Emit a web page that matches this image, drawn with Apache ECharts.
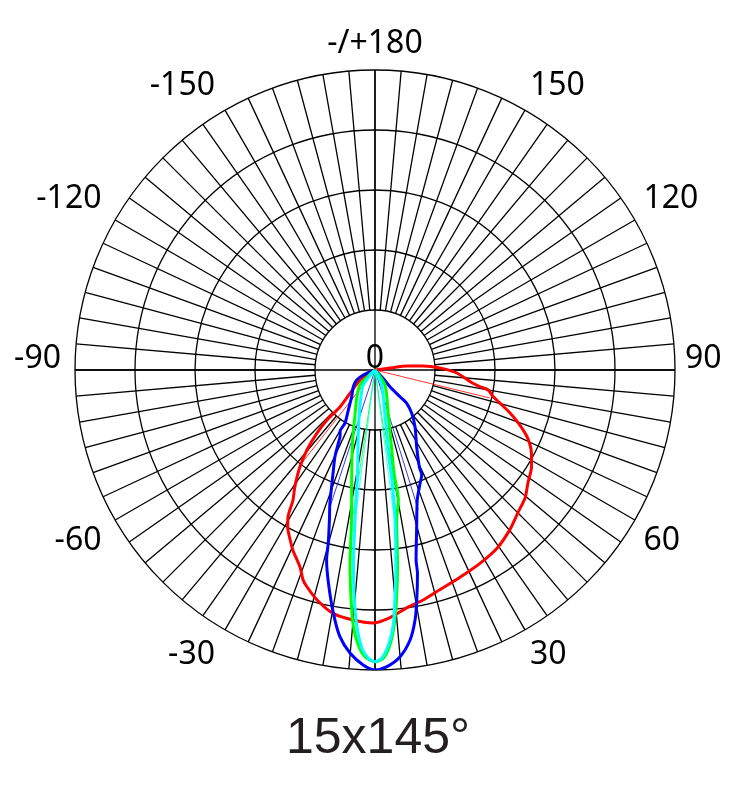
<!DOCTYPE html>
<html><head><meta charset="utf-8">
<script src="https://cdn.jsdelivr.net/npm/echarts@6/dist/echarts.min.js"></script>
<style>html,body{margin:0;padding:0;background:#fff}#c{width:742px;height:810px}</style>
</head><body><div id="c"></div>
<script>
// Angle axis labels (degrees, 0 = straight down)
const angleTicks  = [-180, -150, -120, -90, -60, -30, 0, 30, 60, 90, 120, 150];
const angleLabels = ['-/+180', '-150', '-120', '-90', '-60', '-30', '', '30', '60', '90', '120', '150'];
const chartTitle = '15x145°';
const centerLabel = '0';

// Red curve
const redAngle = [-70, -68, -56, -47, -43.4, -43.8, -42.6, -40.4, -37.7, -34.4, -32.2, -30.6, -29, -26.5, -24.5, -20.8, -18.9, -17.5, -14.2, -9.8, -5, -0.5, 3.5, 7.6, 11.8, 16.5, 22.3, 28.5, 34.4, 40.2, 45, 49.7, 53.6, 58.3, 62.1, 66, 69.2, 72.3, 75.2, 77.3, 80, 81, 83, 87.9, 91.8, 94.8, 97.2, 97.6, 98];
const redR     = [0, 5.4, 18, 34, 51, 69, 86, 105, 123, 142, 154, 171, 180, 190, 198, 211, 222, 227, 237, 247, 251, 253, 248, 240, 235, 229, 224, 220, 216, 209, 202, 197, 190, 184, 177, 167, 155, 142, 129, 121, 115, 106, 96, 82, 65, 48, 32, 15, 0];

// Blue curve
const blueAngle = [-68, -66.9, -61.3, -52.4, -41.1, -33.7, -29.4, -29.8, -27.7, -26.6, -24.8, -22.6, -20.4, -18.7, -16.9, -15.1, -14.3, -12.3, -9.7, -7.5, -5, -2.3, 0, 2.3, 5, 7.4, 9.1, 10.3, 11.8, 12.2, 14.9, 18, 21.7, 24, 24.6, 28.5, 35.2, 40.3, 43.6, 43.1, 41.9, 45, 45];
const blueR     = [0, 12.7, 20.9, 27.4, 35.4, 48.1, 61.2, 70, 75.3, 82, 95.5, 108.3, 124.5, 140.7, 156.8, 179.5, 196, 218.4, 246.9, 269, 284.4, 295.2, 300, 296.9, 287.8, 272.3, 253.2, 233.7, 207.7, 194.4, 162.1, 136.7, 121.9, 114.9, 106.4, 87.3, 69.4, 56.8, 46, 36.6, 22.4, 9.5, 0];

// Green curve
const greenAngle = [-50, -45, -32.9, -24, -19.4, -16.2, -12.5, -8.9, -7.3, -6, -4.9, -3.5, -2, 0, 1.65, 3.1, 4.3, 5.4, 6.6, 8.2, 10.2, 10.4, 12, 16.5, 33.7, 40];
const greenR     = [0, 21.2, 33.7, 49.2, 65.4, 81.5, 107.6, 151.8, 196.6, 229.3, 255.9, 275.5, 286.9, 291.7, 288.4, 275.4, 255.7, 229, 196.3, 151.6, 132, 106.8, 80, 46.9, 18, 0];

// Cyan curve
const cyanAngle = [-45, -38, -23.2, -15.1, -9.5, -7.6, -6.3, -5.2, -4.1, -2.7, -1.3, 0, 1.3, 2.8, 4.1, 5, 6.1, 7.6, 9, 9.6, 12.5, 24, 30];
const cyanR     = [0, 19, 38.1, 63.9, 106.4, 151.3, 196.2, 228.9, 255.7, 278.6, 288.4, 291.7, 288.4, 275.3, 255.7, 228.9, 196.1, 151.3, 106.3, 79.4, 46.1, 16.4, 0];

// Half-intensity beam lines: [angle, radius]
const redHalf   = [[-38.2, 119], [76.3, 118]];
const blueHalf  = [[-18.2, 144], [17.2, 146]];
const greenHalf = [[-8.6, 146], [8.4, 146]];
const cyanHalf  = [[-7.6, 146], [7.4, 146]];

const colors = {red: '#ff0000', blue: '#0000ff', green: '#00ff00', cyan: '#00ffff'};

function pts(a, r) { return a.map((v, i) => [r[i], v]); }

const series = [];
function addCurve(name, a, r, half) {
  half.forEach((h, k) => {
    series.push({
      type: 'line', coordinateSystem: 'polar', polarIndex: 1, name: name + 'half' + k,
      data: [[0, h[0]], [h[1], h[0]]], showSymbol: false, silent: true,
      lineStyle: {color: colors[name], width: 0.8}, z: 3
    });
  });
  series.push({
    type: 'line', coordinateSystem: 'polar', polarIndex: 1, name: name,
    data: pts(a, r), showSymbol: false, smooth: 0.25, silent: true,
    lineStyle: {color: colors[name], width: 3}, z: 4
  });
}
addCurve('red', redAngle, redR, redHalf);
addCurve('blue', blueAngle, blueR, blueHalf);
addCurve('green', greenAngle, greenR, greenHalf);
addCurve('cyan', cyanAngle, cyanR, cyanHalf);

const gridLine = {color: '#000', width: 1.3};
const lblFont = {fontSize: 32, fontFamily: 'Noto Sans', color: '#000'};
const chart = echarts.init(document.getElementById('c'), null, {renderer: 'canvas'});
chart.setOption({
  animation: false,
  backgroundColor: '#fff',
  polar: [
    {center: [375, 370], radius: [60, 300]},
    {center: [375, 370], radius: [0, 300]}
  ],
  angleAxis: [
    {
      polarIndex: 0, type: 'value', min: -180, max: 180, interval: 5,
      startAngle: 90, clockwise: false,
      axisLine: {show: false}, axisTick: {show: false},
      splitLine: {show: true, lineStyle: gridLine},
      axisLabel: {
        show: true, margin: 10, color: '#000', fontSize: 32, fontFamily: 'Noto Sans',
        formatter: v => {
          const i = angleTicks.indexOf(v);
          if (i < 0 || angleLabels[i] === '') return '';
          if (v === -90) return '{n90|' + angleLabels[i] + '}';
          if (v === 90) return '{p90|' + angleLabels[i] + '}';
          if (v < 0 && v > -180) return '{n|' + angleLabels[i] + '}';
          return '{p|' + angleLabels[i] + '}';
        },
        rich: {
          p: Object.assign({}, lblFont),
          n: Object.assign({padding: [0, 5, 0, 0]}, lblFont),
          n90: Object.assign({padding: [0, 4, 22, 0]}, lblFont),
          p90: Object.assign({padding: [0, 0, 22, 0]}, lblFont)
        }
      }
    },
    {
      polarIndex: 1, type: 'value', min: -180, max: 180, interval: 90,
      startAngle: 90, clockwise: false,
      axisLine: {show: false}, axisTick: {show: false}, axisLabel: {show: false},
      splitLine: {show: true, lineStyle: gridLine}
    }
  ],
  radiusAxis: [
    {polarIndex: 0, min: 0, max: 1, axisLine: {show: false}, axisTick: {show: false},
     axisLabel: {show: false}, splitLine: {show: false}},
    {polarIndex: 1, min: 0, max: 300, interval: 60, axisLine: {show: false}, axisTick: {show: false},
     axisLabel: {show: false}, splitLine: {show: true, lineStyle: gridLine}}
  ],
  graphic: [
    {type: 'text', silent: true, z: 10, x: 375, y: 359,
     style: {text: centerLabel, textAlign: 'center', textVerticalAlign: 'middle',
             font: '32px "Noto Sans"', fill: '#000'}},
    {type: 'text', silent: true, z: 10, x: 378, y: 739,
     style: {text: chartTitle, textAlign: 'center', textVerticalAlign: 'middle',
             font: '50px "Liberation Sans"', fill: '#231f20'}}
  ],
  series: series
});
</script>
</body></html>
